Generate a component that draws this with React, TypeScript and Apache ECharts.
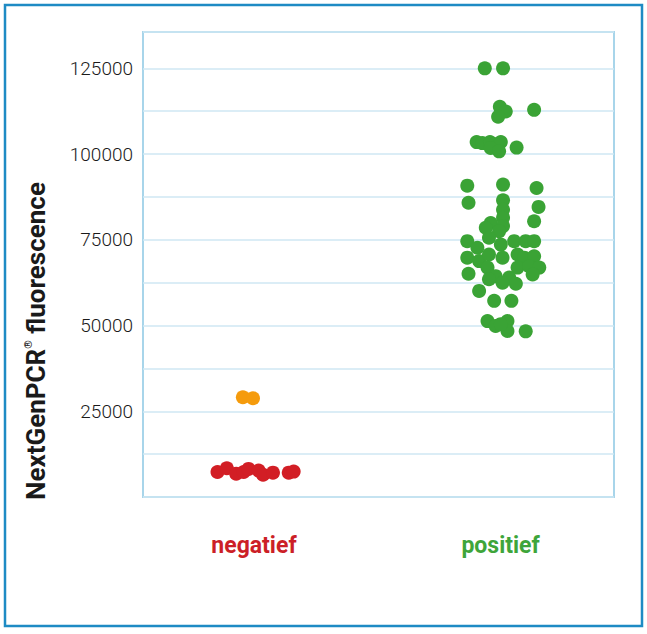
import React, { useEffect, useRef } from "react";
import * as echarts from "echarts";

const categories = ["negatief", "positief"];
const yTicks = [25000, 50000, 75000, 100000, 125000];

// [jitter offset within category, fluorescence]
const negatiefOrange: [number, number][] = [
  [-0.045, 29100],
  [-0.004, 28800],
];
const negatiefRed: [number, number][] = [
  [-0.148, 7300],
  [-0.11, 8400],
  [-0.072, 6800],
  [-0.042, 7300],
  [-0.022, 8200],
  [0.019, 7700],
  [0.037, 6500],
  [0.077, 7100],
  [0.141, 7100],
  [0.161, 7400],
];
const positief: [number, number][] = [
  [-0.064, 125000], [0.01, 125000], [-0.003, 113800], [0.021, 112400],
  [-0.01, 110900], [0.136, 112900], [-0.097, 103500], [-0.074, 103200],
  [-0.043, 103500], [-0.02, 102900], [0.001, 103500], [-0.04, 101800],
  [-0.006, 100800], [0.065, 101900], [-0.135, 90800], [0.01, 91100],
  [0.146, 90100], [-0.13, 85800], [0.01, 86500], [0.154, 84600],
  [0.01, 83800], [0.01, 81400], [0.136, 80400], [-0.04, 79900],
  [0.01, 79000], [-0.06, 78500], [-0.006, 77500], [-0.135, 74600],
  [-0.094, 72700], [-0.047, 75600], [0.001, 73600], [0.055, 74600],
  [0.102, 74600], [0.136, 74600], [-0.135, 69800], [-0.087, 68800],
  [-0.047, 70700], [0.008, 69800], [0.069, 70700], [0.096, 69800],
  [0.136, 70200], [-0.13, 65100], [-0.053, 66900], [0.069, 66900],
  [0.116, 67300], [0.157, 66900], [-0.02, 64400], [0.035, 64000],
  [-0.047, 63500], [0.008, 62500], [0.062, 62200], [0.13, 64900],
  [-0.087, 60100], [-0.026, 57200], [0.044, 57200], [-0.053, 51300],
  [-0.02, 49900], [0.028, 51300], [0.028, 48400], [0.102, 48300],
  [0.001, 50400],
];

const toPoints = (cat: number, arr: [number, number][]) =>
  arr.map(([j, v]) => [cat + j, v]);

export default function App() {
  const ref = useRef<HTMLDivElement>(null);
  useEffect(() => {
    document.body.style.margin = "0";
    const chart = echarts.init(ref.current!, null, { renderer: "svg" });
    const labelColors = ["#cc1f27", "#3ea53a"];
    chart.setOption({
      animation: false,
      backgroundColor: "#ffffff",
      grid: {
        left: 143,
        right: 33,
        top: 32,
        bottom: 137,
        show: true,
        borderColor: "#a8d5ea",
        borderWidth: 2,
        backgroundColor: "transparent",
      },
      xAxis: {
        type: "value",
        min: -0.45,
        max: 1.46,
        axisLine: { show: false },
        axisTick: { show: false },
        splitLine: { show: false },
        axisLabel: {
          customValues: [0, 1],
          margin: 37,
          formatter: (v: number) => {
            const i = Math.round(v);
            return `{c${i}|${categories[i]}}`;
          },
          rich: {
            c0: { color: labelColors[0], fontSize: 23, fontWeight: "bold", fontFamily: "Roboto" },
            c1: { color: labelColors[1], fontSize: 23, fontWeight: "bold", fontFamily: "Roboto" },
          },
        },
      },
      yAxis: {
        type: "value",
        min: 0,
        max: 135600,
        interval: 12500,
        axisLine: { show: false },
        axisTick: { show: false },
        splitLine: { lineStyle: { color: "#cfe7f3", width: 1.5 } },
        axisLabel: {
          margin: 10,
          color: "#1a1a1a",
          fontSize: 19,
          fontFamily: "Roboto",
          fontWeight: 300,
          formatter: (v: number) => (yTicks.includes(v) ? String(v) : ""),
        },
      },
      graphic: [
        {
          type: "rect",
          shape: { x: 5, y: 5, width: 637, height: 621 },
          style: { fill: "none", stroke: "#1e8bc4", lineWidth: 2.5 },
          silent: true,
        },
        {
          type: "text",
          x: 36,
          y: 341,
          rotation: Math.PI / 2,
          style: {
            text: "{a|NextGenPCR}{r|®}{a| fluorescence}",
            align: "center",
            verticalAlign: "middle",
            fill: "#1a1a1a",
            rich: {
              a: { fontSize: 26, fontWeight: "bold", fontFamily: "Roboto", fill: "#1a1a1a" },
              r: { fontSize: 11, fontWeight: "bold", fontFamily: "Roboto", fill: "#1a1a1a", verticalAlign: "top", padding: [0, 0, 12, 0] },
            },
          },
        },
      ],
      series: [
        {
          type: "scatter",
          symbolSize: 14,
          itemStyle: { color: "#d21e25", opacity: 1 },
          data: toPoints(0, negatiefRed),
        },
        {
          type: "scatter",
          symbolSize: 14,
          itemStyle: { color: "#f59b0c", opacity: 1 },
          data: toPoints(0, negatiefOrange),
        },
        {
          type: "scatter",
          symbolSize: 14,
          itemStyle: { color: "#3aa335", opacity: 1 },
          data: toPoints(1, positief),
        },
      ],
    });
    return () => chart.dispose();
  }, []);
  return (
    <div
      ref={ref}
      style={{ position: "fixed", left: 0, top: 0, width: 647, height: 634 }}
    />
  );
}
